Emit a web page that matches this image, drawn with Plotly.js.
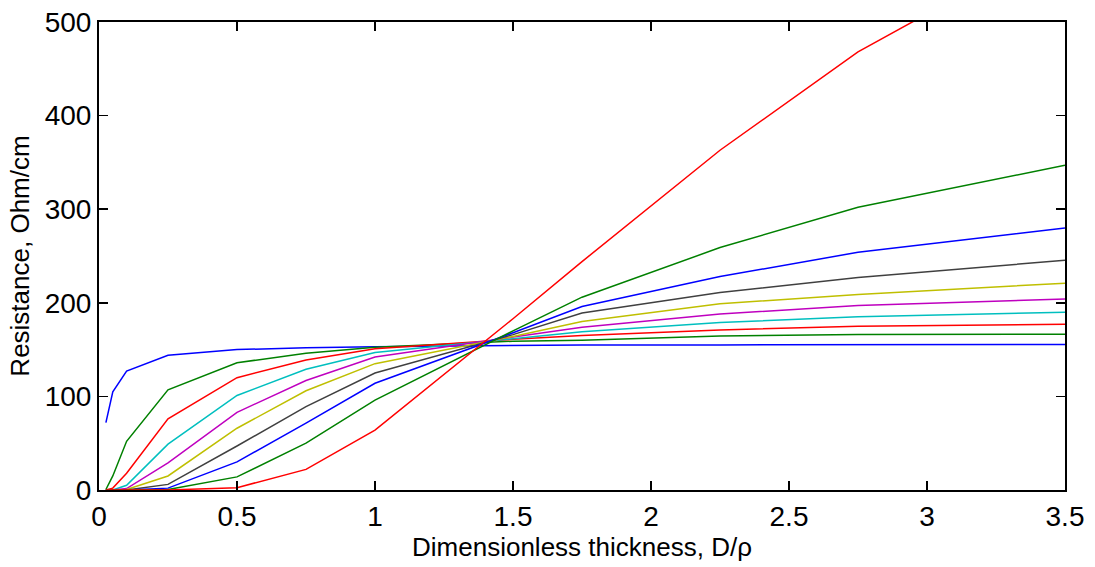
<!DOCTYPE html>
<html>
<head>
<meta charset="utf-8">
<script src="https://cdn.plot.ly/plotly-3.0.1.min.js"></script>
<style>html,body{margin:0;padding:0;background:#fff;}#chart{width:1095px;height:567px;}</style>
</head>
<body>
<div id="chart"></div>
<script>
// Dimensionless thickness D/rho
var thickness = [0.025, 0.05, 0.1, 0.25, 0.5, 0.75, 1, 1.5, 1.75, 2.25, 2.75, 3.5];

// Resistance, Ohm/cm (one series per curve)
var series1  = [72, 105, 127, 144, 150, 152, 153, 154.5, 155, 155, 155, 155.5];
var series2  = [0.5, 15, 52, 107, 136, 146, 152.5, 159, 160, 164.5, 166, 166.5];
var series3  = [0, 2, 18, 76, 120, 139, 151, 161, 165, 171, 175, 177];
var series4  = [0, 0, 5, 49, 101, 129, 147, 162, 169, 179, 185, 190];
var series5  = [0, 0, 1.5, 29, 83, 117, 142, 163, 174, 188, 197, 204];
var series6  = [0, 0, 0.5, 15, 66, 106, 135, 164, 180, 199, 209, 221];
var series7  = [0, 0, 0, 6, 47, 89, 125, 166, 189, 211, 227, 245.5];
var series8  = [0, 0, 0, 2, 30, 71.5, 114, 168, 196, 228, 254, 280];
var series9  = [0, 0, 0, 0.5, 14, 50, 96, 170, 206, 259, 302, 347];
var series10 = [0, 0, 0, 0, 2.5, 22, 64, 183, 244, 363, 468, 590];

var allSeries = [series1, series2, series3, series4, series5, series6, series7, series8, series9, series10];
var colors = ['#0000ff', '#008000', '#ff0000', '#00bfbf', '#bf00bf', '#bfbf00', '#404040', '#0000ff', '#008000', '#ff0000'];

var traces = allSeries.map(function (s, i) {
  return {
    x: thickness,
    y: s,
    type: 'scatter',
    mode: 'lines',
    line: {color: colors[i], width: 1.5},
    showlegend: false,
    hoverinfo: 'x+y'
  };
});

var axisCommon = {
  showline: true,
  linecolor: '#000',
  linewidth: 2,
  mirror: 'ticks',
  ticks: 'inside',
  ticklen: 9,
  tickwidth: 1.5,
  tickcolor: '#000',
  showgrid: false,
  zeroline: false,
  tickfont: {family: 'Liberation Sans, Arial, sans-serif', size: 28, color: '#000'}
};

var layout = {
  width: 1095,
  height: 567,
  margin: {l: 99, r: 30, t: 22, b: 77},
  paper_bgcolor: '#fff',
  plot_bgcolor: '#fff',
  xaxis: Object.assign({}, axisCommon, {
    range: [0, 3.5],
    tickvals: [0, 0.5, 1, 1.5, 2, 2.5, 3, 3.5],
    ticktext: ['0', '0.5', '1', '1.5', '2', '2.5', '3', '3.5'],
    title: {text: 'Dimensionless thickness, D/ρ', font: {family: 'Liberation Sans, Arial, sans-serif', size: 26, color: '#000'}, standoff: 6}
  }),
  yaxis: Object.assign({}, axisCommon, {
    range: [0, 500],
    tickvals: [0, 100, 200, 300, 400, 500],
    title: {text: 'Resistance, Ohm/cm', font: {family: 'Liberation Sans, Arial, sans-serif', size: 26, color: '#000'}, standoff: 8}
  })
};

Plotly.newPlot('chart', traces, layout, {staticPlot: true});
</script>
</body>
</html>
